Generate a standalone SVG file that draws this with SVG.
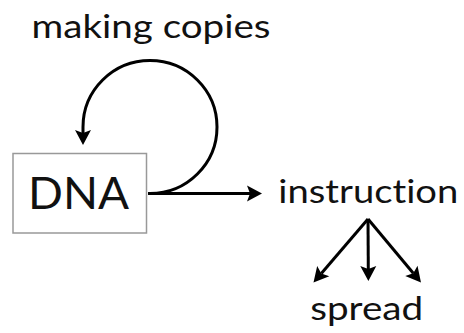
<svg xmlns="http://www.w3.org/2000/svg" width="464" height="333" viewBox="0 0 464 333">
  <style>
    .lbl { font-family: Lato, "Open Sans", "Liberation Sans", sans-serif; fill: #111; font-variant-ligatures: none; }
    .edge { fill: none; stroke: #000; stroke-width: 3; }
  </style>
  <defs>
    <marker id="ah" markerUnits="userSpaceOnUse" markerWidth="16" markerHeight="18" viewBox="0 -9 16 18" refX="3" refY="0" orient="auto" overflow="visible">
      <path d="M0,-8 L15,0 L0,8 L3,0 Z" fill="#000"/>
    </marker>
  </defs>
  <rect width="464" height="333" fill="#fff"/>
  <g id="making-copies">
    <text class="lbl" x="151" y="38.3" font-size="32" text-anchor="middle" textLength="239" lengthAdjust="spacingAndGlyphs">making copies</text>
  </g>
  <g id="dna">
    <rect x="13" y="153.5" width="133.5" height="79.5" fill="#fff" stroke="#999" stroke-width="1.5"/>
    <text class="lbl" x="78.5" y="209" font-size="44" text-anchor="middle" textLength="101" lengthAdjust="spacingAndGlyphs">DNA</text>
  </g>
  <g id="instruction">
    <text class="lbl" x="368.3" y="203.3" font-size="32" text-anchor="middle" textLength="180" lengthAdjust="spacingAndGlyphs">instruction</text>
  </g>
  <g id="spread">
    <text class="lbl" x="366.7" y="320" font-size="32" text-anchor="middle" textLength="113" lengthAdjust="spacingAndGlyphs">spread</text>
  </g>
  <g id="connectors">
    <path class="edge" d="M148,193.5 L250,193.5" marker-end="url(#ah)"/>
    <path class="edge" stroke-width="2.6" d="M150,193.5 A67,66.5 0 1 0 83,127 L83,133" marker-end="url(#ah)"/>
    <path class="edge" d="M368,219 L321.3,273.4" marker-end="url(#ah)"/>
    <path class="edge" d="M368,219 L368.3,269" marker-end="url(#ah)"/>
    <path class="edge" d="M368,219 L413.3,273.3" marker-end="url(#ah)"/>
  </g>
</svg>
